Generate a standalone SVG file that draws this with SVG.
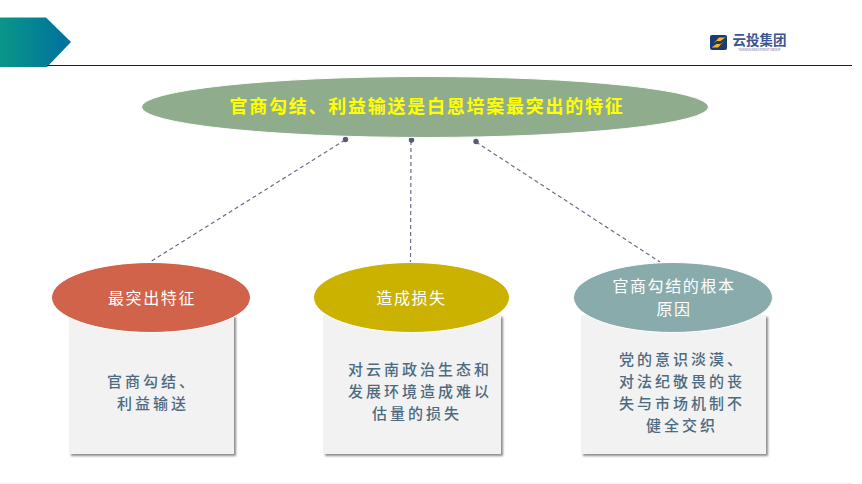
<svg xmlns="http://www.w3.org/2000/svg" width="862" height="484" viewBox="0 0 862 484">
<style>
text{font-family:"Noto Sans CJK SC","Noto Sans CJK TC",sans-serif;text-anchor:middle}
.head{font-size:16px;fill:#fff;letter-spacing:1.6px}
.body{font-size:15px;fill:#4d6b80;font-weight:500;letter-spacing:3px}
.box{fill:#f2f2f2;filter:url(#sh)}
.oval{stroke:#fff;stroke-width:1}
.conn{stroke:#6a6c8c;stroke-width:1.200;stroke-dasharray:4 3;fill:none}
.dot{fill:#565a78}
</style>
<defs>
<linearGradient id="g" x1="0" x2="1" y1="0" y2="0"><stop offset="0" stop-color="#0a9688"/><stop offset="1" stop-color="#00709f"/></linearGradient>
<filter id="sh" x="-5%" y="-5%" width="112%" height="112%"><feDropShadow dx="2" dy="2" stdDeviation="1.2" flood-color="#000" flood-opacity=".45"/></filter>
</defs>
<rect width="862" height="484" fill="#fff"/>
<path d="M0 17.500H46L71 42L47 67H0Z" fill="url(#g)"/>
<path d="M47 65.500H852" stroke="#0c1f56" stroke-width="1"/>
<path d="M0 483.500H852" stroke="#eeeeee" stroke-width="1"/>
<g id="logo">
<rect x="710" y="35" width="17" height="15" rx="2" fill="#1d3a78"/>
<path d="M713 44L719 37.500H725.500L720.500 41H716.500ZM724 41L718 47.500H711.500L716.500 44H720.500Z" fill="#f0b91e"/>
<text x="759.500" y="44.500" font-size="13.500" font-weight="700" fill="#3a5794">云投集团</text>
<text x="759.500" y="51.200" font-size="3" fill="#56688f">YUNNAN INVESTMENT GROUP</text>
</g>
<g id="connectors">
<path class="conn" d="M345 140L150 262"/>
<path class="conn" d="M411 141L410.500 262"/>
<path class="conn" d="M476 142L660 262"/>
<circle class="dot" cx="345.500" cy="139.500" r="2.700"/>
<circle class="dot" cx="411.500" cy="140" r="2.700"/>
<circle class="dot" cx="476" cy="141.500" r="2.700"/>
</g>
<g id="node-top">
<ellipse class="oval" cx="425" cy="107" rx="283.500" ry="30.500" fill="#8fad8c"/>
<text x="427" y="113" font-size="18px" font-weight="700" letter-spacing="1.750" fill="#ffff00">官商勾结、利益输送是白恩培案最突出的特征</text>
</g>
<g id="node-1">
<rect class="box" x="69" y="315" width="165" height="139"/>
<ellipse class="oval" cx="151" cy="297.500" rx="99.500" ry="35" fill="#d1634a"/>
<text class="head" x="152" y="303.500">最突出特征</text>
<text class="body"><tspan x="152" y="387">官商勾结、</tspan><tspan x="153" y="409">利益输送</tspan></text>
</g>
<g id="node-2">
<rect class="box" x="323" y="315" width="178" height="139"/>
<ellipse class="oval" cx="411.500" cy="297.500" rx="98" ry="35" fill="#cbb200"/>
<text class="head" x="411.500" y="303.500">造成损失</text>
<text class="body"><tspan x="420" y="375">对云南政治生态和</tspan><tspan x="420" y="397">发展环境造成难以</tspan><tspan x="417" y="419">估量的损失</tspan></text>
</g>
<g id="node-3">
<rect class="box" x="581" y="315" width="185" height="139"/>
<ellipse class="oval" cx="673" cy="297.500" rx="99.500" ry="35" fill="#8aabac"/>
<text class="head"><tspan x="674" y="292">官商勾结的根本</tspan><tspan x="674" y="315">原因</tspan></text>
<text class="body"><tspan x="682" y="365">党的意识淡漠、</tspan><tspan x="682" y="387">对法纪敬畏的丧</tspan><tspan x="682" y="409">失与市场机制不</tspan><tspan x="682" y="431">健全交织</tspan></text>
</g>
</svg>
